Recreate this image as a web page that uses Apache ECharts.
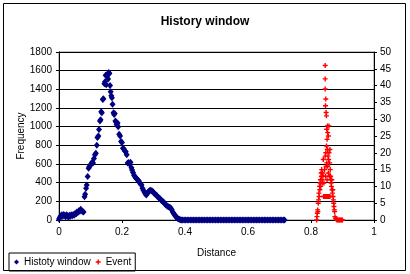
<!DOCTYPE html>
<html><head><meta charset="utf-8">
<script src="https://cdn.jsdelivr.net/npm/echarts@6/dist/echarts.min.js"></script>
<style>html,body{margin:0;padding:0;background:#fff}#c{width:410px;height:274px}</style>
</head><body><div id="c"></div>
<script>
var titleText = "History window";
var xTicks = [0, 0.2, 0.4, 0.6, 0.8, 1];
var histName = "Histoty window";
var eventName = "Event";
var yName = "Frequency";
var histDist = [0.000,0.003,0.006,0.009,0.012,0.015,0.018,0.021,0.024,0.027,0.030,0.033,0.036,0.039,0.042,0.045,0.048,0.051,0.054,0.057,0.060,0.063,0.066,0.069,0.072,0.075,0.078,
0.081,0.083,0.086,0.088,0.091,0.094,0.096,0.099,0.102,0.105,0.108,0.111,0.114,0.117,0.120,0.122,0.125,0.127,0.130,0.132,0.134,0.136,0.139,0.141,0.144,0.146,0.148,0.150,0.152,0.154,0.156,0.158,0.160,
0.162,0.164,0.166,0.168,0.170,0.173,0.175,0.177,0.179,0.181,0.183,0.186,0.188,0.191,0.194,0.197,0.200,0.203,0.206,0.209,0.212,0.215,0.218,0.221,0.224,0.227,0.230,0.232,0.235,0.238,0.241,0.244,0.247,0.250,
0.253,0.256,0.259,0.262,0.265,0.268,0.271,0.274,0.277,0.280,0.283,0.286,0.289,0.292,0.295,0.298,0.301,0.304,0.307,0.310,0.313,0.316,0.319,0.322,0.325,0.328,0.331,0.334,0.337,0.340,0.343,0.346,0.349,0.352,
0.355,0.358,0.361,0.364,0.367,0.370,0.373,0.376,0.379,0.382,0.385,0.388,
0.392,0.397,0.402,0.407,0.412,0.417,0.422,0.427,0.432,0.437,0.442,0.447,0.452,0.457,0.462,0.467,0.472,0.477,0.482,0.487,0.492,0.497,0.502,0.507,0.512,0.517,0.522,0.527,0.532,0.537,0.542,0.547,0.552,0.557,
0.562,0.567,0.572,0.577,0.582,0.587,0.592,0.597,0.602,0.607,0.612,0.617,0.622,0.627,0.632,0.637,0.642,0.647,0.652,0.657,0.662,0.667,0.672,0.677,0.682,0.687,0.692,0.697,0.702,0.707,0.712,0.716];
var histFreq = [10,30,45,55,40,60,50,35,55,45,30,50,40,55,45,60,50,70,65,85,80,100,95,115,100,90,85,
250,275,340,375,465,555,570,585,600,620,610,660,700,715,800,885,900,970,1060,1075,1160,1150,1290,1300,1460,1480,1550,1450,1540,1560,1510,1580,1570,
1440,1375,1330,1310,1240,1150,1130,1140,1060,1050,1020,1040,1000,920,900,840,830,770,760,740,730,700,610,615,600,620,560,535,510,480,465,450,440,430,
420,400,385,375,340,320,300,280,268,280,300,310,320,315,310,305,290,280,270,265,250,240,232,225,210,200,196,185,170,160,150,145,140,136,
125,110,85,70,55,40,30,18,10,7,3,0,
0,0,0,0,0,0,0,0,0,0,0,0,0,0,0,0,0,0,0,0,0,0,0,0,0,0,0,0,0,0,0,0,0,0,
0,0,0,0,0,0,0,0,0,0,0,0,0,0,0,0,0,0,0,0,0,0,0,0,0,0,0,0,0,0,0,0];
var eventDist = [0.818,0.819,0.820,0.821,0.822,0.823,0.824,0.825,0.826,0.827,0.828,0.829,0.830,0.831,0.832,0.833,0.834,0.835,0.836,0.837,0.838,
0.840,0.842,0.844,0.846,0.848,0.850,0.852,0.854,0.856,0.858,0.860,
0.839,0.841,0.843,0.845,0.846,0.847,0.848,0.849,0.850,0.851,0.852,0.853,0.854,0.855,0.856,0.857,0.858,0.859,0.860,0.861,
0.845,0.845,0.845,0.847,0.846,0.848,0.849,0.852,0.850,0.853,0.855,0.851,0.857,
0.862,0.863,0.864,0.865,0.866,0.867,0.868,0.869,0.870,0.871,0.872,0.873,0.874,0.875,0.876,0.878,0.880,0.882,0.885,0.888,0.891,0.894,0.897,0.900];
var eventCount = [0,1,2,3,2.5,5,6,8,7,10,9,11,12,10,14,13,15,12,11,14,13,
7,7,7,7,7,7,7,7,7,7,7,
18,11,15,19,13,20,16,22,17,12,21,16,19,14,18,20,13,17,21,15,
46,42,39,36,34,32,31,28,27,26,25,24,28,
13,12,11,10,12,9,8,9,7,6,5,4,3,2.5,1,0.5,0.3,0,0,0,0,0,0,0];

var histData = histDist.map(function(d,i){return [d, histFreq[i]];});
var eventData = eventDist.map(function(d,i){return [d, eventCount[i]];});
var plus = 'path://M1.8,0H3.2V1.8H5V3.2H3.2V5H1.8V3.2H0V1.8H1.8Z';
var font = 'Liberation Sans, Arial, sans-serif';
var chart = echarts.init(document.getElementById('c'), null, {renderer:'canvas'});
chart.setOption({
  animation:false,
  backgroundColor:'#fff',
  title:{text:titleText, left:'center', top:11, textStyle:{fontFamily:font, fontSize:12, fontWeight:'bold', color:'#000'}},
  grid:{left:59, right:36, top:52, bottom:54, show:true, borderColor:'#808080', borderWidth:1, backgroundColor:'#fff'},
  legend:{left:9, top:253, orient:'horizontal', itemWidth:5, itemHeight:5, itemGap:5, padding:[4,4,4,5],
    borderColor:'#000', borderWidth:1, borderRadius:0,
    textStyle:{fontFamily:font, fontSize:10, color:'#000'},
    data:[{name:histName, icon:'diamond'},{name:eventName, icon:plus}]},
  xAxis:{type:'value', min:xTicks[0], max:xTicks[xTicks.length-1], interval:0.2,
    name:'Distance', nameLocation:'middle', nameGap:28,
    nameTextStyle:{fontFamily:font, fontSize:10, color:'#000'},
    axisLine:{show:true, onZero:false, lineStyle:{color:'#000', width:1}},
    axisTick:{show:true, inside:false, length:3, lineStyle:{color:'#000'}},
    axisLabel:{fontFamily:font, fontSize:10, color:'#000', margin:7},
    splitLine:{show:false}},
  yAxis:[{type:'value', min:0, max:1800, interval:200, position:'left',
    axisLine:{show:true, lineStyle:{color:'#000', width:1}},
    axisTick:{show:true, inside:false, length:3, lineStyle:{color:'#000'}},
    axisLabel:{fontFamily:font, fontSize:10, color:'#000', margin:7, formatter:function(v){return String(v);}},
    splitLine:{show:true, lineStyle:{color:'#000', width:1}}},
   {type:'value', min:0, max:50, interval:5, position:'right',
    axisLine:{show:true, lineStyle:{color:'#000', width:1}},
    axisTick:{show:true, inside:false, length:3, lineStyle:{color:'#000'}},
    axisLabel:{fontFamily:font, fontSize:10, color:'#000', margin:6},
    splitLine:{show:false}}],
  series:[
    {name:histName, type:'scatter', yAxisIndex:0, data:histData, symbol:'diamond', symbolSize:[6,7],
     itemStyle:{color:'#000080', opacity:1}},
    {name:eventName, type:'scatter', yAxisIndex:1, data:eventData, symbol:plus, symbolSize:5,
     itemStyle:{color:'#FF0000', opacity:1}}
  ],
  graphic:[
    {type:'rect', shape:{x:3.5, y:3.5, width:402, height:267}, style:{fill:null, stroke:'#000', lineWidth:1}, silent:true, z:-1},
    {type:'text', x:21, y:136, rotation:Math.PI/2, style:{text:yName, fill:'#000', font:'10px Liberation Sans, Arial, sans-serif', align:'center', verticalAlign:'middle'}, silent:true}
  ]
});
</script></body></html>
